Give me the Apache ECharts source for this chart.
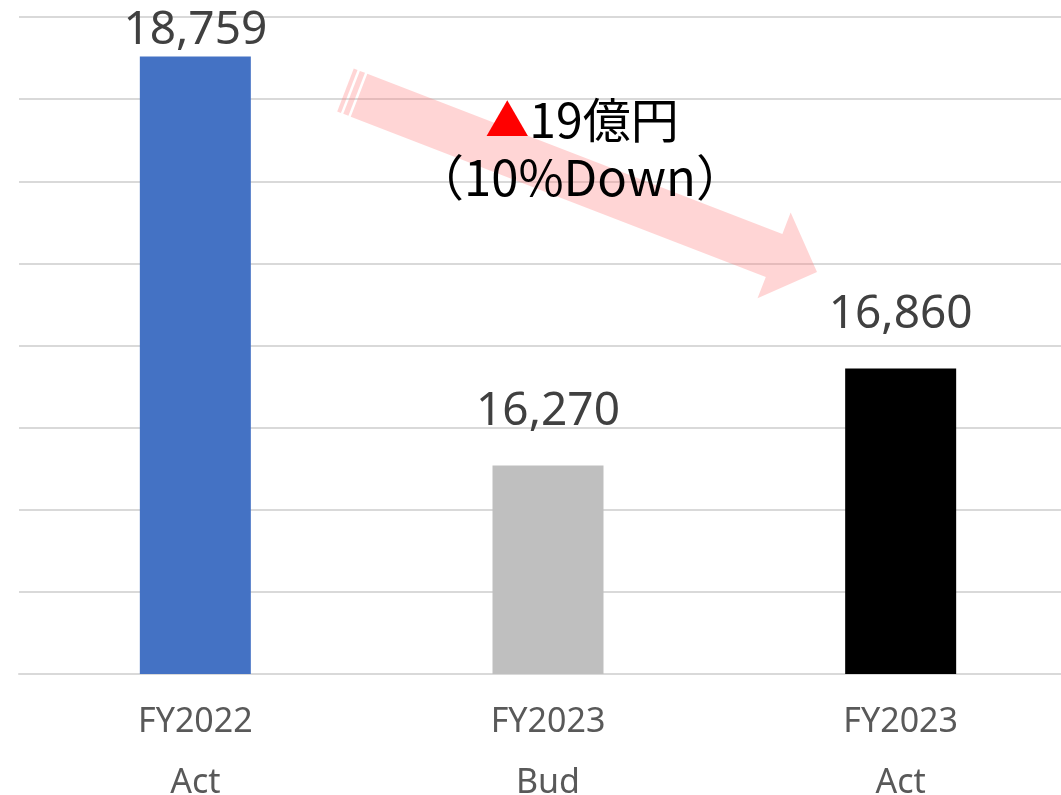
<!DOCTYPE html>
<html>
<head>
<meta charset="utf-8">
<script src="https://cdn.jsdelivr.net/npm/echarts@6/dist/echarts.min.js"></script>
<style>
html,body{margin:0;padding:0;background:#fff;overflow:hidden;}
#chart{width:1061px;height:795px;}
</style>
</head>
<body>
<div id="chart"></div>
<script>
const categories = ['FY2022\nAct', 'FY2023\nBud', 'FY2023\nAct'];
const values = [18759, 16270, 16860];
const barColors = ['#4472C4', '#BFBFBF', '#000000'];
const labelDistances = [3, 31, 31];
const annotationLine1 = '19億円';
const annotationLine2 = '（10%Down）';

const chart = echarts.init(document.getElementById('chart'));

// Striped arrow annotation (PowerPoint-style), built from start/end points
function arrowShapes(x0, y0, x1, y1) {
  const dx = x1 - x0, dy = y1 - y0;
  const L = Math.hypot(dx, dy);
  const ux = dx / L, uy = dy / L, px = -uy, py = ux;
  const hw = 23, headW = 46, headL = 46;
  const P = (u, v) => [x0 + ux * u + px * v, y0 + uy * u + py * v];
  const rect = (a, b) => [P(a, -hw), P(b, -hw), P(b, hw), P(a, hw)];
  const body = [P(14.5, -hw), P(L - headL, -hw), P(L - headL, -headW), P(L, 0),
                P(L - headL, headW), P(L - headL, hw), P(14.5, hw)];
  return [rect(0, 4), rect(6.5, 12), body];
}
const arrowFill = 'rgba(255,128,128,0.33)';
const arrowPolys = arrowShapes(345.5, 90, 817, 272).map(pts => ({
  type: 'polygon', shape: { points: pts }, style: { fill: arrowFill }, z: 10
}));

chart.setOption({
  animation: false,
  grid: { left: 19, right: -16, top: 17, bottom: 121, containLabel: false, outerBoundsMode: 'none' },
  xAxis: {
    type: 'category',
    data: categories,
    axisLine: { show: true, lineStyle: { color: '#D9D9D9', width: 2 } },
    axisTick: { show: false },
    axisLabel: {
      color: '#595959', fontSize: 34, lineHeight: 61, margin: 18,
      fontFamily: 'Noto Sans'
    }
  },
  yAxis: {
    type: 'value', min: 15000, max: 19000, interval: 500,
    axisLabel: { show: false },
    axisLine: { show: false }, axisTick: { show: false },
    splitLine: { lineStyle: { color: '#D9D9D9', width: 2 } }
  },
  series: [{
    type: 'bar',
    data: values.map((v, i) => ({
      value: v,
      itemStyle: { color: barColors[i] },
      label: { distance: labelDistances[i] }
    })),
    barWidth: 111,
    label: {
      show: true, position: 'top', distance: 3,
      color: '#404040', fontSize: 46, lineHeight: 46, fontFamily: 'Noto Sans',
      formatter: p => p.value.toLocaleString('en-US')
    }
  }],
  graphic: arrowPolys.concat([
    {
      type: 'text', z: 20, x: 582, y: 120,
      style: {
        text: '{tri|▲}{t|' + annotationLine1 + '}',
        align: 'center', verticalAlign: 'middle',
        rich: {
          tri: { fill: '#FF0000', fontSize: 44, fontFamily: 'Noto Sans CJK JP' },
          t: { fill: '#000000', fontSize: 48, fontFamily: 'Noto Sans CJK JP' }
        }
      }
    },
    {
      type: 'text', z: 20, x: 580, y: 177,
      style: {
        text: annotationLine2, align: 'center', verticalAlign: 'middle',
        fill: '#000000', fontSize: 49, fontFamily: 'Noto Sans CJK JP'
      }
    }
  ])
});
</script>
</body>
</html>
